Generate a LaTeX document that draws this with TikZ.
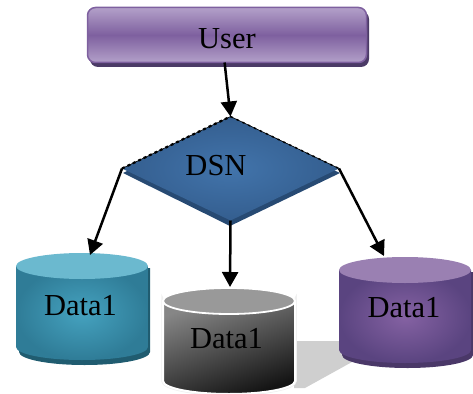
\documentclass[tikz,border=0pt]{standalone}
\usepackage{fontspec}
\setmainfont{Liberation Serif}
\usetikzlibrary{arrows.meta,shapes.geometric,calc}
\definecolor{pmid}{HTML}{7E609F}
\definecolor{plight}{HTML}{B3A0C9}
\definecolor{pdark}{HTML}{4B3A66}
\definecolor{bluein}{HTML}{4274AB}
\definecolor{blueout}{HTML}{345E8F}
\definecolor{blueshadow}{HTML}{274A73}
\definecolor{tealin}{HTML}{45A2BF}
\definecolor{tealout}{HTML}{2F7C97}
\definecolor{tealtop}{HTML}{6BB9CF}
\definecolor{tealshadow}{HTML}{205C70}
\definecolor{violin}{HTML}{8562A3}
\definecolor{violout}{HTML}{5A4480}
\definecolor{violtop}{HTML}{9A80B2}
\definecolor{violshadow}{HTML}{4A3868}
\definecolor{graytop}{HTML}{999999}
\definecolor{groundshadow}{HTML}{CFCFCF}
\tikzset{
  lab/.style={font=\fontsize{30.5}{36}\selectfont, text=black, inner sep=0pt},
  link/.style={line width=2.5pt, draw=black, -{Triangle[length=15pt,width=16pt]}},
  ghost/.style={inner sep=0pt, outer sep=0pt},
}
\newcommand{\cylshadow}[4]{%
  \fill[#4] (#1+3,#2+2) -- (#1+134,#2+2) -- (#1+134,#3+4)
    arc[start angle=0,end angle=180,x radius=65.5,y radius=13] -- cycle;}
\newcommand{\cylbody}[4]{%
  \path[#4] (#1,#2) -- (#1+132,#2) -- (#1+132,#3)
    arc[start angle=0,end angle=180,x radius=66,y radius=13] -- cycle;}
\newcommand{\cyltop}[3]{%
  \fill[#3] (#1+66,#2) ellipse[x radius=66,y radius=13];}
\begin{document}
\begin{tikzpicture}[x=1pt,y=-1pt]
\path[use as bounding box] (0,0) rectangle (473,393);
\clip (0,0) rectangle (473,393);

% user box
\fill[pdark,rounded corners=8pt] (90,11) rectangle (369,67);
\node[ghost,rectangle,rounded corners=8pt,minimum width=279pt,minimum height=55pt,
  draw=pmid,line width=1.5pt,top color=plight,bottom color=plight,middle color=pmid] (user) at (227,35) {};
\node[lab] (userlab) at (227,39) {User};

% diamond
\fill[blueshadow] (123,173) -- (230,122) -- (340,173) -- (230,226) -- cycle;
\node[ghost,diamond,aspect=2.1,minimum width=217pt,minimum height=104pt,
  inner color=bluein,outer color=blueout] (dsn) at (230.5,168.5) {};
\draw[black,line width=0.6pt] (dsn.west) -- (dsn.north) -- (dsn.east);
\draw[black,line width=2.2pt,dash pattern=on 3pt off 3pt] (dsn.west) -- (dsn.north);
\draw[black,line width=1.5pt,dash pattern=on 2.5pt off 4pt] (dsn.north) -- (dsn.east);
\node[lab] (dsnlab) at (216,166) {DSN};

% ground shadow
\fill[groundshadow] (294,341) -- (340,341) -- (352,362) -- (305,388) -- (294,388) -- cycle;

% teal cylinder
\cylshadow{16}{266}{348}{tealshadow}
\cylbody{16}{266}{347}{inner color=tealin,outer color=tealout}
\cyltop{16}{266}{tealtop}
\coordinate (tealin) at (90,255);
\node[lab] (teallab) at (80.5,306) {Data1};

% grey cylinder
\path[draw=black!6,line width=3.5pt] (163,301) -- (163,381)
  arc[start angle=180,end angle=0,x radius=66,y radius=13] -- (295,301)
  arc[start angle=0,end angle=180,x radius=66,y radius=13] -- cycle;
\cylbody{163}{301}{381}{top color=gray!95,bottom color=black!92,shading angle=20,draw=white,line width=2pt}
\draw[white,line width=1.8pt,fill=graytop] (229,301) ellipse[x radius=66,y radius=13];
\coordinate (greyin) at (230,287);
\node[lab] (greylab) at (226.5,339) {Data1};

% purple cylinder
\cylshadow{339}{270}{351}{violshadow}
\cylbody{339}{270}{350}{inner color=violin,outer color=violout}
\cyltop{339}{270}{violtop}
\coordinate (violin) at (384,256);
\node[lab] (viollab) at (404,308) {Data1};

% connectors
\draw[link] (user.265) -- (dsn.north);
\draw[link] (dsn.west) -- (tealin);
\draw[link] (dsn.south) -- (greyin);
\draw[link] (dsn.east) -- (violin);
\end{tikzpicture}
\end{document}
